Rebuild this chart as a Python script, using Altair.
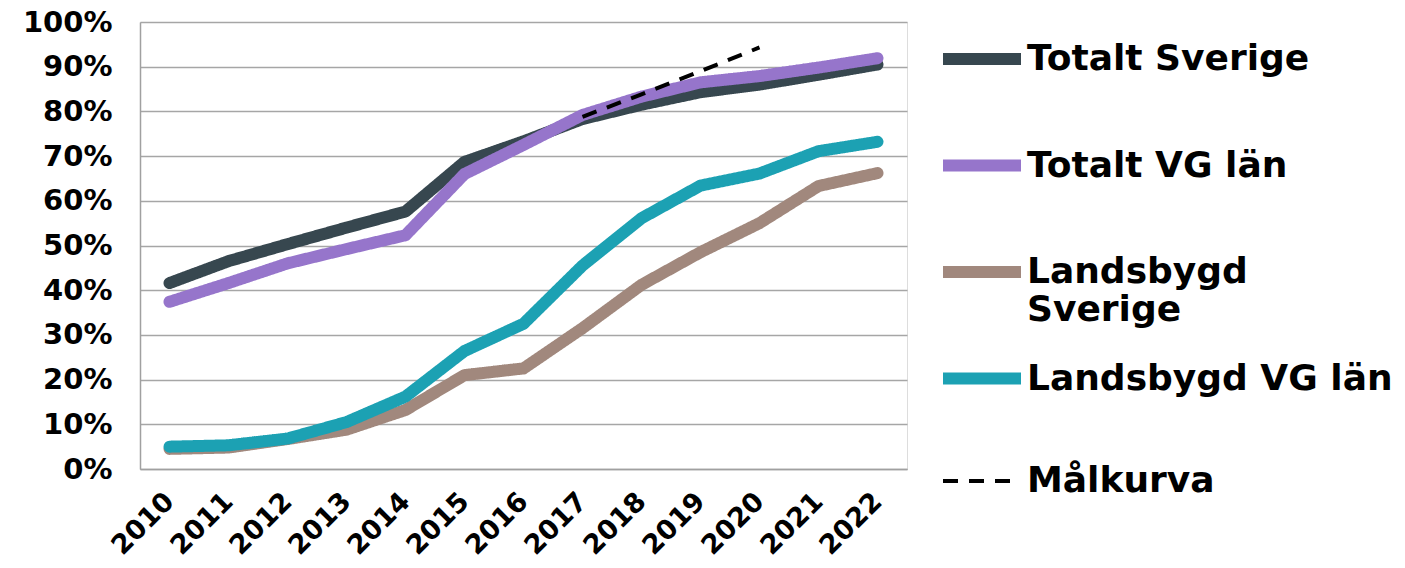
import altair as alt
import pandas as pd

years = [str(y) for y in range(2010, 2023)]
totalt_sverige = [41.6, 46.5, 50.3, 54.0, 57.6, 68.7, 73.3, 78.3, 81.5, 84.3, 86.0, 88.2, 90.5]
totalt_vg = [37.4, 41.6, 46.0, 49.2, 52.3, 66.0, 72.5, 79.2, 83.3, 86.5, 87.9, 89.8, 91.9]
landsbygd_sverige = [4.5, 4.8, 6.7, 8.8, 13.2, 21.0, 22.5, 31.5, 41.2, 48.5, 55.0, 63.3, 66.2]
landsbygd_vg = [5.0, 5.3, 6.8, 10.5, 16.2, 26.4, 32.5, 45.5, 56.1, 63.4, 66.1, 71.1, 73.2]
malkurva_years = ["2017", "2018", "2019", "2020"]
malkurva = [78.8, 83.8, 89.0, 94.3]

series_names = ["Totalt Sverige", "Totalt VG län", "Landsbygd Sverige", "Landsbygd VG län", "Målkurva"]
series_colors = ["#37474f", "#9675cb", "#a1887d", "#1ca1b3", "#000000"]
series_widths = [12, 12, 12, 12, 4]
series_dashes = [[1, 0], [1, 0], [1, 0], [1, 0], [15, 11]]

rows = []
for name, vals in zip(series_names[:4], [totalt_sverige, totalt_vg, landsbygd_sverige, landsbygd_vg]):
    for y, v in zip(years, vals):
        rows.append({"year": y, "value": v / 100, "series": name})
for y, v in zip(malkurva_years, malkurva):
    rows.append({"year": y, "value": v / 100, "series": "Målkurva"})
df = pd.DataFrame(rows)

FONT = "DejaVu Sans"

x_enc = alt.X("year:O", sort=years,
              scale=alt.Scale(domain=years, padding=0.5),
              axis=alt.Axis(title=None, labelAngle=-45, labelFont=FONT, labelFontSize=27,
                            labelFontWeight="bold", labelColor="#000000", ticks=False,
                            labelPadding=28, domainColor="#a0a0a0", domainWidth=1.5,
                            grid=False, labelAlign="right", labelBaseline="middle"))
y_enc = alt.Y("value:Q",
              scale=alt.Scale(domain=[0, 1], nice=False),
              axis=alt.Axis(title=None, format=".0%", values=[i / 10 for i in range(11)],
                            labelFont=FONT, labelFontSize=29, labelFontWeight="bold",
                            labelColor="#000000", ticks=False, labelPadding=28,
                            domainColor="#a0a0a0", domainWidth=1.5,
                            gridColor="#a6a6a6", gridWidth=1.5))

legend = alt.Legend(
    title=None, orient="none", legendX=797, legendY=-8,
    symbolType="M-1,0H1M0,0.9", symbolSize=6084,
    labelFont=FONT, labelFontSize=36, labelFontWeight="bold", labelColor="#000000",
    labelOffset=0, rowPadding=1.5, padding=0, labelLimit=600,
    labelExpr="datum.label == 'Landsbygd Sverige' ? ['Landsbygd', 'Sverige'] : datum.label",
)

color_enc = alt.Color("series:N", scale=alt.Scale(domain=series_names, range=series_colors),
                      legend=legend)
dash_enc = alt.StrokeDash("series:N", scale=alt.Scale(domain=series_names, range=series_dashes),
                          legend=legend)
width_enc = alt.StrokeWidth("series:N",
                            scale=alt.Scale(type="ordinal", domain=series_names, range=series_widths),
                            legend=legend)

layers = []
for name in series_names:
    cap = "butt" if name == "Målkurva" else "round"
    mk = alt.Chart(df).mark_line(strokeCap=cap, strokeJoin="round")
    layers.append(mk.transform_filter(alt.datum.series == name).encode(
        x=x_enc, y=y_enc, color=color_enc, strokeDash=dash_enc, strokeWidth=width_enc))

chart = alt.layer(*layers).properties(
    width=767, height=447,
    autosize=alt.AutoSizeParams(type="none"),
    padding={"left": 132, "top": 14, "right": 490, "bottom": 91},
).configure_view(stroke=None, strokeWidth=0).configure(background="#ffffff")

chart.save("out.html", embed_options={"renderer": "svg", "actions": False})
